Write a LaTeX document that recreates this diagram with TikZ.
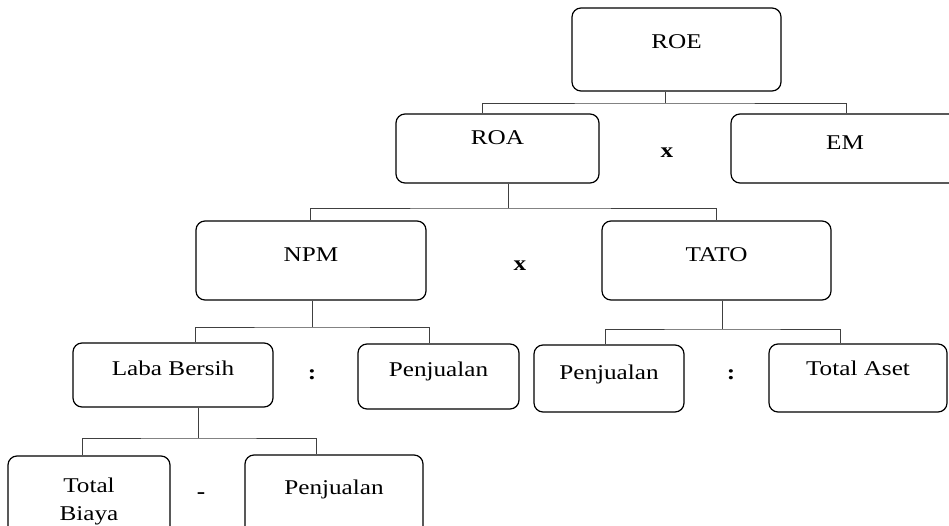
\documentclass[tikz,border=0pt]{standalone}
\usepackage{fontspec}
\setmainfont[FakeStretch=1.2]{Liberation Serif}
\begin{document}
\begin{tikzpicture}[x=1pt,y=-1pt,
  box/.style={draw,rounded corners=9pt,line width=1.2pt,inner sep=0pt,
    font=\fontsize{21}{28}\selectfont,text depth=#1},
  box/.default=14pt,
  conn/.style={black!75,line width=0.7pt},
  op/.style={font=\fontsize{21}{28}\selectfont\bfseries,inner sep=0pt}]
\useasboundingbox (0,0) rectangle (949,526);
% level 1
\node[box=15pt,minimum width=209pt,minimum height=83pt] (roe) at (676.5,49.5) {ROE};
% level 2
\node[box=21pt,minimum width=203pt,minimum height=69pt] (roa) at (497.5,148.5) {ROA};
\node[box=11pt,minimum width=228pt,minimum height=69pt] (em) at (845,148.5) {EM};
\node[op] (kali1) at (667,153) {x};
% level 3
\node[box=11pt,minimum width=230pt,minimum height=79pt] (npm) at (311,260.5) {NPM};
\node[box=11pt,minimum width=229pt,minimum height=79pt] (tato) at (716.5,260.5) {TATO};
\node[op] (kali2) at (520,266) {x};
% level 4
\node[box=14pt,minimum width=200pt,minimum height=64pt] (laba) at (173,375) {Laba Bersih};
\node[box=14pt,minimum width=161pt,minimum height=65pt] (jual1) at (438.5,376.5) {Penjualan};
\node[op] (bagi1) at (312,375) {:};
\node[box=13pt,minimum width=150pt,minimum height=67pt] (jual2) at (609,378.5) {Penjualan};
\node[box=20pt,minimum width=178pt,minimum height=68pt] (aset) at (858,378) {Total Aset};
\node[op] (bagi2) at (731,375) {:};
% level 5
\node[draw,rounded corners=9pt,line width=1.2pt,inner sep=0pt,align=center,
  font=\fontsize{21}{28}\selectfont,minimum width=162pt,minimum height=90pt] (biaya) at (89,501) {Total\\Biaya};
\node[box=25pt,minimum width=178pt,minimum height=90pt] (jual3) at (334,500) {Penjualan};
\node[op] (kurang) at (201,496) {-};
% connectors
\coordinate (j1) at (665,103);
\coordinate (j2) at (508,208);
\coordinate (j3) at (312,327);
\coordinate (j4) at (722,329);
\coordinate (j5) at (198,438);
\draw[conn] (j1 |- roe.south) -- (j1);
\draw[conn] ([xshift=-15pt]roa.north) |- (j1) -| ([xshift=1pt]em.north);
\draw[conn] (j2 |- roa.south) -- (j2);
\draw[conn] ([xshift=-1pt]npm.north) |- (j2) -| (tato.north);
\draw[conn] (j3 |- npm.south) -- (j3);
\draw[conn] ([xshift=22pt]laba.north) |- (j3) -| ([xshift=-9.5pt]jual1.north);
\draw[conn] (j4 |- tato.south) -- (j4);
\draw[conn] ([xshift=-4pt]jual2.north) |- (j4) -| ([xshift=-18pt]aset.north);
\draw[conn] (j5 |- laba.south) -- (j5);
\draw[conn] ([xshift=-7pt]biaya.north) |- (j5) -| ([xshift=-18pt]jual3.north);
\end{tikzpicture}
\end{document}
